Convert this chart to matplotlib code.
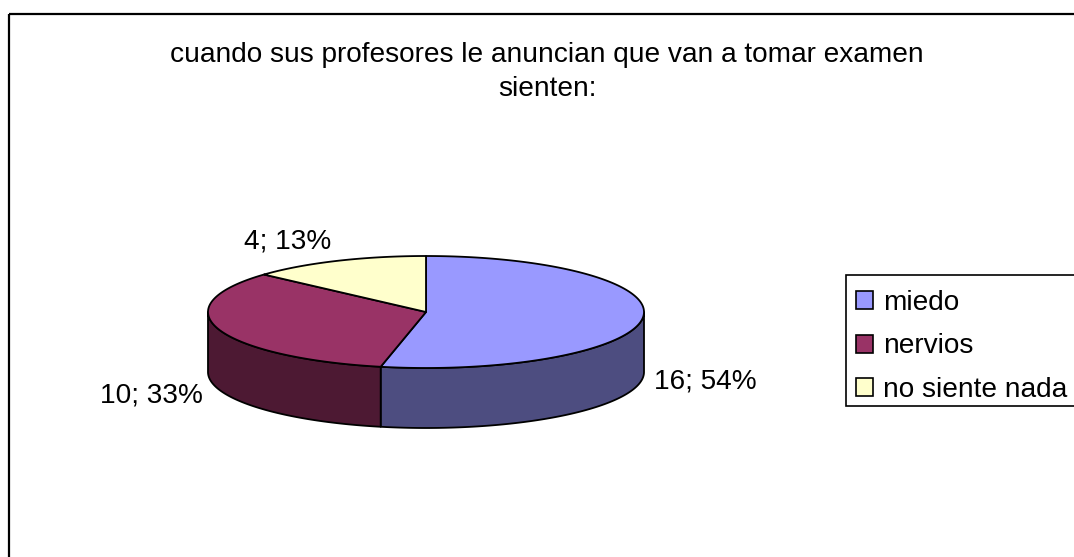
import numpy as np
import matplotlib
matplotlib.use("Agg")
import matplotlib.pyplot as plt
from matplotlib.patches import Patch, Polygon, Rectangle

title = "cuando sus profesores le anuncian que van a tomar examen\nsienten:"
categories = ["miedo", "nervios", "no siente nada"]
values = [16, 10, 4]
point_labels = ["16; 54%", "10; 33%", "4; 13%"]
top_colors = ["#9999FF", "#993366", "#FFFFCC"]
side_colors = ["#4D4D80", "#4D1933", "#808066"]

plt.rcParams["font.family"] = ["Liberation Sans", "DejaVu Sans"]
fig = plt.figure(figsize=(10.74, 5.57), dpi=100)
ax = fig.add_axes([0, 0, 1, 1])
ax.set_xlim(0, 1074)
ax.set_ylim(557, 0)
ax.axis("off")

# chart frame, cut by the image's right and bottom edges
ax.add_patch(Rectangle((9, 14), 1100, 600, fill=False, ec="black", lw=1.6, clip_on=True))

CX, CY, RX, RY, DEPTH = 426, 312, 218, 56, 60
LW = 1.3


def rim(a, b, n=160):
    t = np.linspace(a, b, n)
    return CX + RX * np.sin(t), CY - RY * np.cos(t)


fractions = np.array(values, dtype=float) / sum(values)
edges = np.concatenate([[0], np.cumsum(fractions)]) * 2 * np.pi

# side walls (only the front half of the rim is visible)
for i in range(len(values)):
    a = max(edges[i], np.pi / 2)
    b = min(edges[i + 1], 3 * np.pi / 2)
    if b <= a:
        continue
    x, y = rim(a, b)
    pts = np.column_stack([np.r_[x, x[::-1]], np.r_[y, y[::-1] + DEPTH]])
    ax.add_patch(Polygon(pts, closed=True, fc=side_colors[i], ec="black", lw=LW, joinstyle="round", zorder=2))

# top faces
for i in range(len(values)):
    x, y = rim(edges[i], edges[i + 1])
    pts = np.column_stack([np.r_[CX, x], np.r_[CY, y]])
    ax.add_patch(Polygon(pts, closed=True, fc=top_colors[i], ec="black", lw=LW, joinstyle="round", zorder=3))

FS = 20.2
ax.text(547, 72, title, ha="center", va="center", fontsize=FS, linespacing=1.44, color="black")

label_pos = [(705.5, 382), (151.5, 396), (287.5, 241)]
for txt, (lx, ly) in zip(point_labels, label_pos):
    ax.text(lx, ly, txt, ha="center", va="center", fontsize=FS, color="black")

# legend box, cut by the image's right edge
ax.add_patch(Rectangle((846, 275), 260, 131, fc="white", ec="black", lw=1.2, zorder=4))
handles = [Patch(fc=c, ec="black", lw=1.2) for c in top_colors]
leg = ax.legend(
    handles, categories, loc="upper left",
    bbox_to_anchor=(846 / 1074, 1 - 280 / 557), bbox_transform=fig.transFigure,
    fontsize=FS, frameon=False,
    borderaxespad=0, borderpad=0.36, handlelength=0.6, handleheight=0.6,
    handletextpad=0.36, labelspacing=0.62,
)
leg.set_zorder(5)

fig.savefig("out.png", dpi=100, facecolor="white")
